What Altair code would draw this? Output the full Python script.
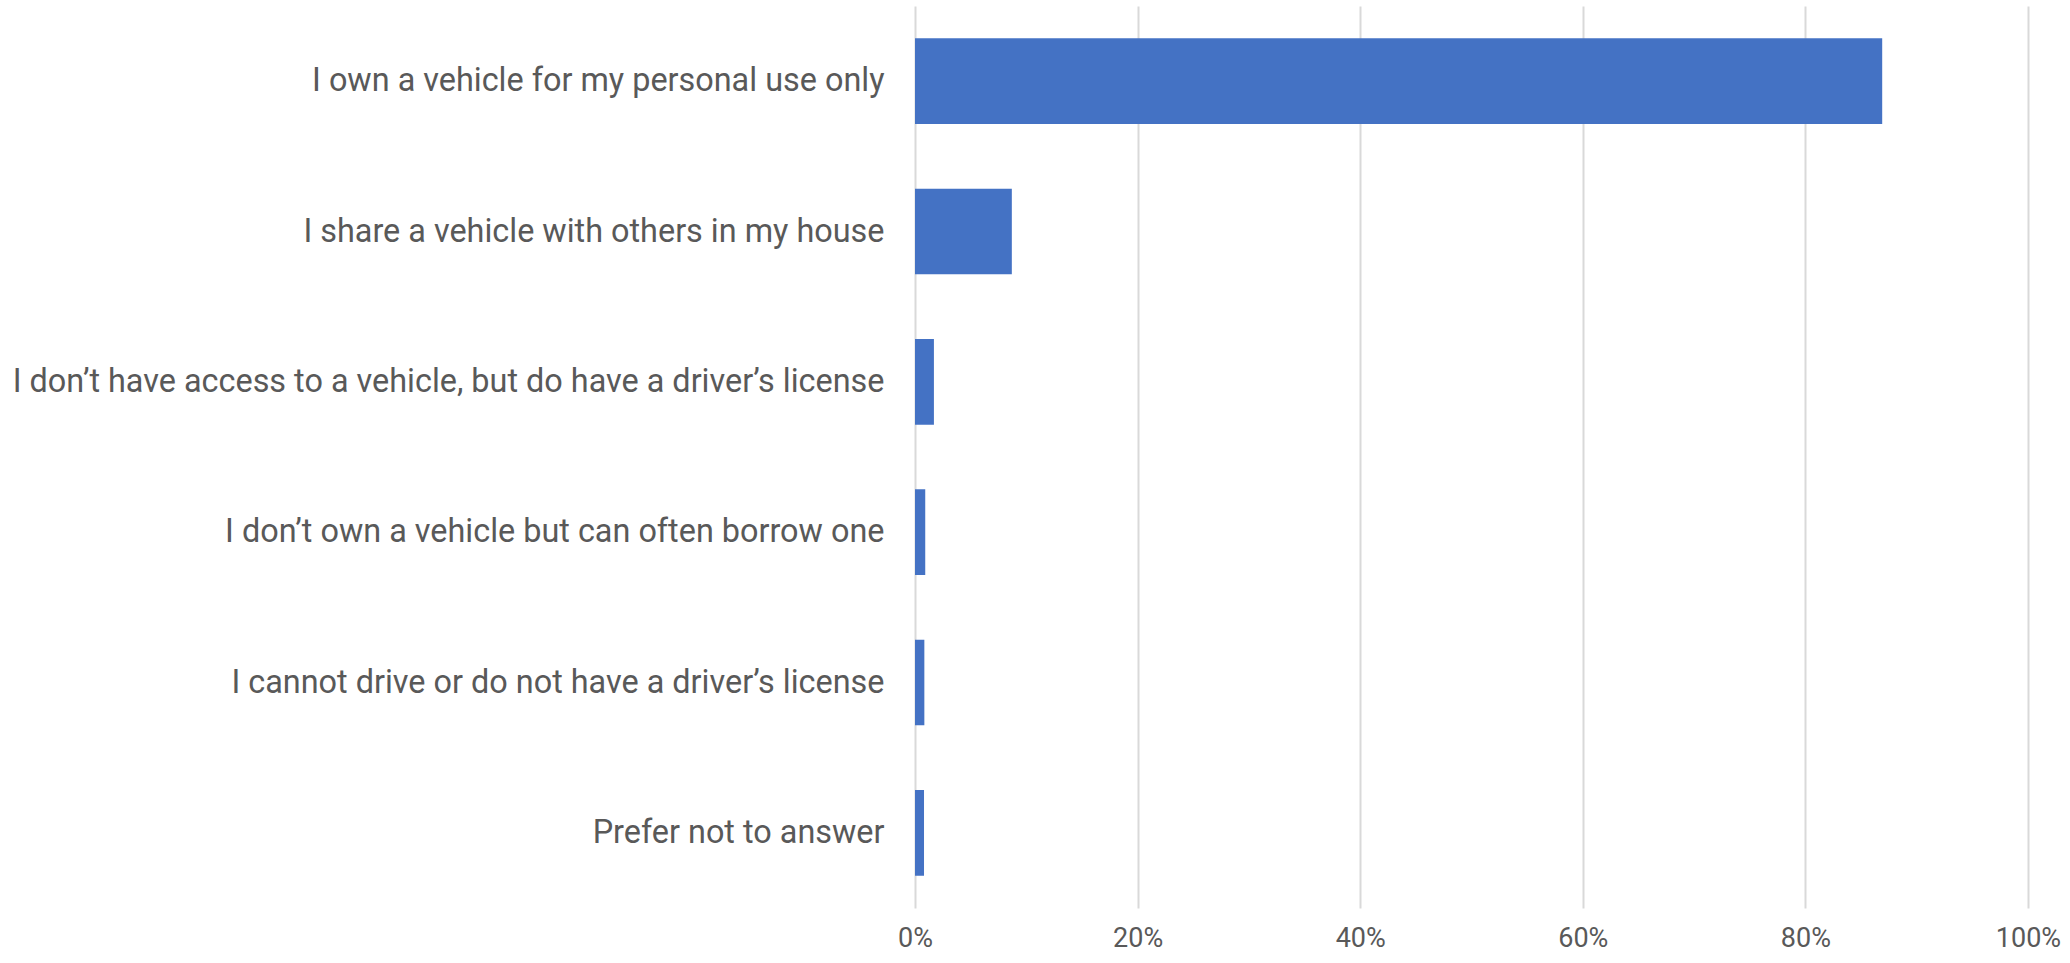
import altair as alt
import pandas as pd

categories = [
    "I own a vehicle for my personal use only",
    "I share a vehicle with others in my house",
    "I don\u2019t have access to a vehicle, but do have a driver\u2019s license",
    "I don\u2019t own a vehicle but can often borrow one",
    "I cannot drive or do not have a driver\u2019s license",
    "Prefer not to answer",
]
values = [0.869, 0.087, 0.017, 0.0092, 0.0084, 0.0081]
x_ticks = [0, 0.2, 0.4, 0.6, 0.8, 1.0]

df = pd.DataFrame({"category": categories, "value": values})

chart = alt.Chart(df).mark_bar(color="#4472C4").encode(
    x=alt.X("value:Q",
            scale=alt.Scale(domain=[0, 1], nice=False),
            axis=alt.Axis(values=x_ticks, format=".0%", title=None,
                          grid=True, gridColor="#D9D9D9", gridWidth=2,
                          domain=False, ticks=False, labelFlush=False,
                          labelFont="Roboto", labelFontSize=27,
                          labelColor="#595959", labelPadding=17)),
    y=alt.Y("category:N", sort=categories,
            scale=alt.Scale(paddingInner=0.43, paddingOuter=0.215),
            axis=alt.Axis(title=None, domain=False, ticks=False, grid=False,
                          labelFont="Roboto", labelFontSize=32.4,
                          labelColor="#595959", labelPadding=31,
                          labelLimit=2000)),
).properties(
    width=1113,
    height=902,
    autosize=alt.AutoSizeParams(type="none"),
    padding={"left": 915, "top": 6, "right": 42, "bottom": 55},
).configure(background="white").configure_view(stroke=None)

chart.save("out.html", embed_options={"renderer": "svg", "actions": False})
